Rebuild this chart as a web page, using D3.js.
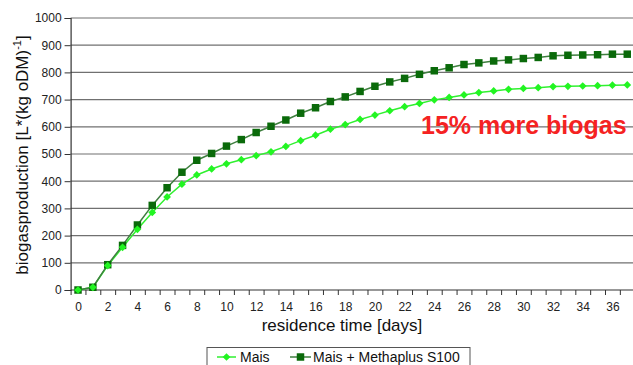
<!DOCTYPE html>
<html>
<head>
<meta charset="utf-8">
<script src="https://cdn.jsdelivr.net/npm/d3@7"></script>
<style>
  html, body { margin: 0; padding: 0; background: #fff; overflow: hidden; }
  svg { display: block; font-family: "Liberation Sans", Arial, sans-serif; }
</style>
</head>
<body>
<svg id="chart" width="633" height="365"></svg>
<script>
// ---- data ----
const days = d3.range(0, 38);
const xTickLabels = [0,2,4,6,8,10,12,14,16,18,20,22,24,26,28,30,32,34,36];
const yTicks = [0,100,200,300,400,500,600,700,800,900,1000];
const seriesNames = ["Mais", "Mais + Methaplus S100"];
const mais = [0,10,90,157,223,285,342,389,423,445,464,479,494,508,528,549,569,591,608,627,643,659,674,686,699,708,717,726,732,738,741,744,748,749,750,751,753,754];
const methaplus = [0,10,93,164,239,311,376,433,477,502,529,553,579,602,625,650,670,693,710,730,749,765,778,793,806,817,829,835,842,846,851,855,861,863,864,865,867,867];
const annotation = "15% more biogas";
const xTitle = "residence time [days]";

// ---- layout ----
const svg = d3.select("#chart");
const x = d3.scaleLinear().domain([-0.5, 37.5]).range([70.6, 634.7]);
const y = d3.scaleLinear().domain([0, 1000]).range([290, 18]);

// gridlines
svg.append("g")
  .selectAll("line").data(yTicks.filter(d => d > 0)).join("line")
  .attr("x1", x(-0.5)).attr("x2", 640)
  .attr("y1", d => y(d)).attr("y2", d => y(d))
  .attr("stroke", "#707070").attr("stroke-width", 1.2);

// y axis
const yAxis = svg.append("g").attr("transform", `translate(${x(-0.5)},0)`)
  .call(d3.axisLeft(y).tickValues(yTicks).tickSize(6).tickPadding(3).tickFormat(d3.format("d")));
yAxis.select(".domain").attr("stroke", "#333").attr("stroke-width", 1.2);
yAxis.selectAll(".tick line").attr("stroke", "#333");
yAxis.selectAll("text").attr("font-size", 12).attr("fill", "#222")
  .attr("font-family", "Liberation Sans, Arial, sans-serif");

// x axis (ticks at category boundaries)
const xAxis = svg.append("g").attr("transform", `translate(0,${y(0)})`)
  .call(d3.axisBottom(x).tickValues(d3.range(-0.5, 38, 1)).tickSize(5).tickFormat(""));
xAxis.select(".domain").attr("stroke", "#333").attr("stroke-width", 1.2).attr("d", `M${x(-0.5)},0H640`);
xAxis.selectAll(".tick line").attr("stroke", "#333");

const xLab = svg.append("g").attr("transform", `translate(0,${y(0)})`)
  .call(d3.axisBottom(x).tickValues(xTickLabels).tickSize(0).tickPadding(12).tickFormat(d3.format("d")));
xLab.select(".domain").remove();
xLab.selectAll("text").attr("font-size", 12).attr("fill", "#222")
  .attr("font-family", "Liberation Sans, Arial, sans-serif");

// axis titles
svg.append("text").attr("x", 342).attr("y", 331).attr("text-anchor", "middle")
  .attr("font-size", 17).attr("fill", "#111").text(xTitle);

const yt = svg.append("text").attr("transform", "translate(28,155) rotate(-90)")
  .attr("text-anchor", "middle").attr("font-size", 17).attr("fill", "#111");
yt.append("tspan").text("biogasproduction [L*(kg oDM)");
yt.append("tspan").attr("font-size", 11).attr("dy", -7).text("-1");
yt.append("tspan").attr("dy", 7).text("]");

// lines
const line = d3.line().x((d, i) => x(days[i])).y(d => y(d));
svg.append("path").datum(mais).attr("d", line)
  .attr("fill", "none").attr("stroke", "#30f030").attr("stroke-width", 1.5);
svg.append("path").datum(methaplus).attr("d", line)
  .attr("fill", "none").attr("stroke", "#3f7f3f").attr("stroke-width", 1.5);

// markers
const sq = d3.symbol().type(d3.symbolSquare).size(56);
const dm = d3.symbol().type(d3.symbolSquare).size(30);
svg.append("g").selectAll("path").data(methaplus).join("path")
  .attr("d", sq).attr("transform", (d, i) => `translate(${x(days[i])},${y(d)})`)
  .attr("fill", "#0a6a0a");
svg.append("g").selectAll("path").data(mais).join("path")
  .attr("d", dm).attr("transform", (d, i) => `translate(${x(days[i])},${y(d)}) rotate(45)`)
  .attr("fill", "#22f522");

// annotation
svg.append("text").attr("x", 421).attr("y", 134).attr("font-size", 25)
  .attr("font-weight", "bold").attr("fill", "#f52222").text(annotation);

// legend
const lg = svg.append("g");
lg.append("rect").attr("x", 207).attr("y", 347.5).attr("width", 263).attr("height", 30)
  .attr("fill", "#fff").attr("stroke", "#555").attr("stroke-width", 1);
lg.append("line").attr("x1", 217).attr("x2", 236).attr("y1", 357).attr("y2", 357)
  .attr("stroke", "#30f030").attr("stroke-width", 1.5);
lg.append("path").attr("d", dm).attr("transform", "translate(226.5,357) rotate(45)").attr("fill", "#22f522");
lg.append("text").attr("x", 240).attr("y", 362).attr("font-size", 14).attr("fill", "#111").text(seriesNames[0]);
lg.append("line").attr("x1", 290).attr("x2", 311).attr("y1", 357).attr("y2", 357)
  .attr("stroke", "#3f7f3f").attr("stroke-width", 1.5);
lg.append("path").attr("d", sq).attr("transform", "translate(300.5,357)").attr("fill", "#0a6a0a");
lg.append("text").attr("x", 313).attr("y", 362).attr("font-size", 14).attr("fill", "#111").text(seriesNames[1]);
</script>
</body>
</html>
